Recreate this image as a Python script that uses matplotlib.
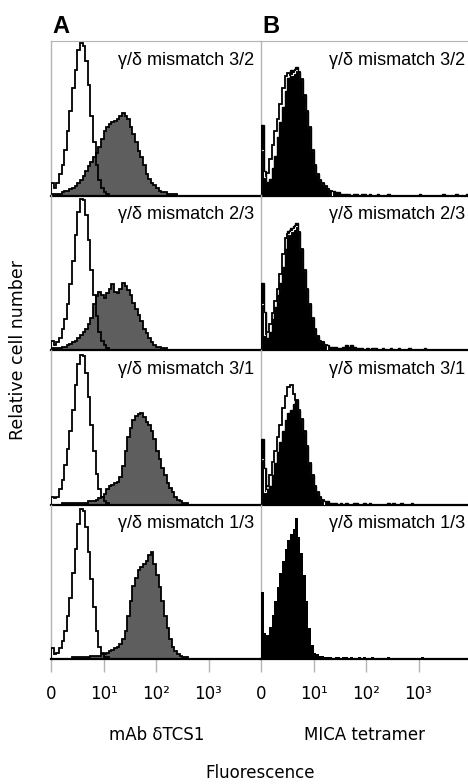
import numpy as np
import matplotlib
matplotlib.use('Agg')
import matplotlib.pyplot as plt

# histogram counts, % of panel height, bins of 0.05 decade starting at "0"
bin_width = 0.05

# panel A: mAb dTCS1 (open = control, grey = stained)
a_open_32 = [8, 5, 8, 14, 20, 30, 42, 55, 70, 82, 95, 100, 98, 88, 72, 52, 35, 20, 10, 5, 2, 1]
a_fill_32 = [1, 1, 1, 1, 2, 3, 3, 4, 5, 6, 8, 10, 13, 16, 19, 22, 25, 28, 32, 37,
             42, 45, 47, 48, 49, 50, 52, 54, 52, 50, 45, 40, 35, 29, 25, 20, 14, 11, 8, 7,
             5, 3, 2, 2, 1, 1, 1, 1]
a_open_23 = [6, 3, 5, 8, 14, 20, 30, 43, 58, 75, 90, 99, 98, 88, 72, 52, 36, 22, 12, 6, 3, 1]
a_fill_23 = [1, 1, 1, 1, 2, 2, 3, 4, 5, 6, 8, 10, 12, 14, 17, 21, 30, 35, 38, 36,
             34, 37, 40, 43, 38, 37, 40, 44, 42, 39, 36, 31, 27, 23, 19, 14, 11, 8, 5, 3,
             2, 2, 1, 1]
a_open_31 = [5, 4, 5, 10, 16, 26, 36, 48, 62, 78, 92, 98, 97, 86, 70, 52, 35, 20, 10, 5, 2, 1]
a_fill_31 = [0, 0, 0, 0, 1, 1, 1, 1, 1, 1, 1, 1, 1, 1, 2, 2, 2, 3, 4, 5,
             7, 10, 12, 13, 14, 15, 18, 25, 35, 44, 50, 55, 58, 59, 60, 57, 54, 52, 48, 43,
             35, 30, 24, 19, 14, 11, 8, 5, 3, 2, 1, 1]
a_open_13 = [7, 3, 4, 7, 12, 18, 28, 40, 56, 72, 88, 98, 97, 86, 70, 52, 34, 18, 8, 4, 1, 1]
a_fill_13 = [0, 0, 0, 0, 0, 0, 0, 0, 1, 1, 1, 1, 1, 1, 1, 2, 2, 2, 2, 3,
             3, 4, 5, 6, 7, 8, 10, 13, 18, 28, 38, 48, 53, 58, 60, 62, 64, 68, 70, 62,
             55, 47, 38, 28, 20, 13, 8, 5, 3, 2, 1, 1]

# panel B: MICA tetramer (open = control, black = stained)
b_open_32 = [30, 12, 15, 24, 33, 42, 50, 60, 70, 78, 80, 79, 80, 82, 81, 76, 66, 55, 45, 30,
             20, 14, 10, 8, 6, 4, 3]
b_fill_32 = [46, 16, 9, 11, 18, 26, 38, 48, 58, 68, 77, 82, 82, 84, 81, 76, 66, 55, 45, 30,
             20, 14, 10, 8, 6, 4, 3, 3, 2, 2, 1, 1, 1, 1, 0, 1, 1, 0, 1, 1,
             0, 1, 0, 0, 1, 0, 0, 0, 1, 0, 0, 0, 0, 0, 0, 0, 0, 0, 0, 0,
             1, 0, 0, 0, 0, 0, 0, 0, 0, 1, 0, 0, 0, 0, 1, 0, 0, 0, 1, 0]
b_open_23 = [30, 10, 12, 17, 24, 32, 40, 50, 63, 73, 76, 78, 79, 81, 77, 66, 52, 40, 30, 21,
             14, 9, 6, 5, 3]
b_fill_23 = [44, 25, 8, 12, 20, 28, 36, 44, 54, 66, 78, 80, 81, 83, 77, 66, 52, 40, 30, 21,
             14, 9, 6, 5, 3, 3, 2, 2, 2, 1, 1, 2, 3, 2, 3, 2, 1, 1, 1, 0,
             1, 0, 1, 1, 0, 0, 1, 0, 0, 1, 0, 0, 1, 0, 0, 0, 1, 0, 0, 0,
             0, 0, 1]
b_open_31 = [30, 8, 12, 19, 28, 35, 44, 52, 63, 71, 77, 78, 72, 68, 62, 56, 48, 38, 27, 19,
             12, 8, 5, 3]
b_fill_31 = [43, 24, 10, 12, 19, 27, 34, 41, 48, 55, 60, 62, 66, 68, 62, 56, 48, 38, 27, 19,
             12, 8, 5, 3, 2, 2, 1, 1, 1, 0, 1, 0, 1, 0, 0, 1, 1, 0, 0, 1,
             0, 1, 0, 0, 0, 0, 0, 0, 1, 0, 1, 0, 0, 1, 0, 0, 0, 1]
b_fill_13 = [44, 17, 16, 21, 29, 38, 47, 56, 64, 72, 78, 82, 85, 92, 80, 69, 55, 38, 20, 9,
             4, 3, 2, 2, 1, 1, 1, 0, 1, 1, 0, 1, 1, 0, 1, 0, 0, 1, 0, 1,
             0, 0, 1, 0, 0, 0, 0, 0, 1, 0, 0, 0, 0, 0, 0, 0, 0, 0, 0, 0,
             0, 1]

panel_labels = ['γ/δ mismatch 3/2', 'γ/δ mismatch 2/3', 'γ/δ mismatch 3/1', 'γ/δ mismatch 1/3']
a_rows = [(a_open_32, a_fill_32), (a_open_23, a_fill_23), (a_open_31, a_fill_31), (a_open_13, a_fill_13)]
b_rows = [(b_open_32, b_fill_32), (b_open_23, b_fill_23), (b_open_31, b_fill_31), (None, b_fill_13)]
tick_pos = [0, 1, 2, 3]
tick_labels = ['0', '10¹', '10²', '10³']

W, H = 468, 784
fig = plt.figure(figsize=(W / 100, H / 100), dpi=100)
grey = '#b4b4b4'
lab_font = ['DejaVu Sans']
txt_font = ['Liberation Sans', 'DejaVu Sans']


def px_axes(x0, y0, w, h):
    return fig.add_axes([x0 / W, 1 - (y0 + h) / H, w / W, h / H])


def stairs_of(vals):
    v = np.asarray(vals, dtype=float)
    edges = np.arange(len(v) + 1) * bin_width
    return v, edges


def style(ax, row, xmax):
    ax.set_xlim(0, xmax)
    ax.set_ylim(0, 101)
    ax.set_yticks([])
    ax.spines['right'].set_visible(False)
    ax.spines['left'].set_color(grey)
    ax.spines['left'].set_linewidth(1.0)
    ax.spines['top'].set_visible(row == 0)
    ax.spines['top'].set_color(grey)
    ax.spines['bottom'].set_color('black')
    ax.spines['bottom'].set_linewidth(1.6)
    if row == 3:
        ax.set_xticks(tick_pos)
        ax.set_xticklabels(tick_labels, family=lab_font, fontsize=12)
        ax.tick_params(axis='x', direction='out', length=9, width=1.0,
                       color=grey, pad=10)
    else:
        ax.set_xticks([])
    ax.patch.set_alpha(0)


top, row_h = 41, 154.5
for i in range(4):
    y0 = top + row_h * i
    # column A
    ax = px_axes(51, y0, 210, row_h)
    op, fl = a_rows[i]
    v, e = stairs_of(fl)
    ax.stairs(v, e, fill=True, color='#5e5e5e', zorder=2)
    ax.stairs(v, e, color='black', lw=1.3, zorder=3)
    v, e = stairs_of(op)
    ax.stairs(v, e, color='black', lw=1.3, zorder=4)
    ax.text(0.965, 0.93, panel_labels[i], transform=ax.transAxes, ha='right', va='top',
            family=txt_font, fontsize=13)
    style(ax, i, 4)

    # column B
    ax = px_axes(261, y0, 207, row_h)
    op, fl = b_rows[i]
    if op is not None:
        v, e = stairs_of(op)
        ax.stairs(v, e, color='black', lw=1.3, zorder=2)
    v, e = stairs_of(fl)
    patch = ax.stairs(v, e, fill=True, color='black', zorder=3)
    if op is not None:
        v, e = stairs_of(op)
        wl = ax.stairs(v, e, color='white', lw=0.8, zorder=4)
        wl.set_clip_path(patch)
        # black edge on top hides white slivers along the fill boundary
        v, e = stairs_of(fl)
        ax.stairs(v, e, color='black', lw=1.0, zorder=5)
    ax.text(0.985, 0.93, panel_labels[i], transform=ax.transAxes, ha='right', va='top',
            family=txt_font, fontsize=13)
    style(ax, i, 207 / 52.5)

fig.text(52 / W, 1 - 33 / H, 'A', family=txt_font, fontweight='bold', fontsize=17)
fig.text(262 / W, 1 - 33 / H, 'B', family=txt_font, fontweight='bold', fontsize=17)
fig.text(157 / W, 1 - 735 / H, 'mAb δTCS1', family=lab_font, fontsize=12,
         ha='center', va='center')
fig.text(365 / W, 1 - 735 / H, 'MICA tetramer', family=lab_font, fontsize=12,
         ha='center', va='center')
fig.text(260 / W, 1 - 773 / H, 'Fluorescence', family=lab_font, fontsize=12,
         ha='center', va='center')
fig.text(18 / W, 1 - 350 / H, 'Relative cell number', family=lab_font, fontsize=12.5,
         ha='center', va='center', rotation=90)

fig.savefig('out.png', dpi=100)
